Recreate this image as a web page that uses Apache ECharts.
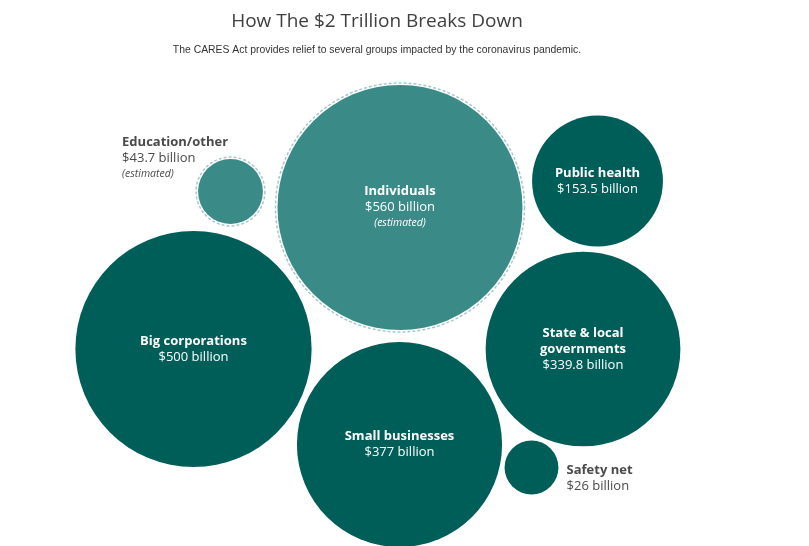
<!DOCTYPE html>
<html>
<head>
<meta charset="utf-8">
<script src="https://cdn.jsdelivr.net/npm/echarts@6/dist/echarts.min.js"></script>
<style>
html,body{margin:0;padding:0;background:#fff;}
#chart{width:809px;height:546px;}
</style>
</head>
<body>
<div id="chart"></div>
<script>
// ---- Data ----
const categories = ['Individuals', 'Big corporations', 'Small businesses', 'State & local governments', 'Public health', 'Education/other', 'Safety net'];
const labelNames = [['Individuals'], ['Big corporations'], ['Small businesses'], ['State & local', 'governments'], ['Public health'], ['Education/other'], ['Safety net']];
const values = [560, 500, 377, 339.8, 153.5, 43.7, 26]; // billion USD
const estimated = [true, false, false, false, false, true, false];

// ---- Layout (packed bubble centres, in pixel space of the plot) ----
const layoutCenters = [[400, 207.5], [193.5, 349], [399.5, 444.5], [583, 349], [597.5, 181], [230.5, 191.5], [531.5, 467.5]];
const maxRadius = 125; // radius for the largest value (area ∝ value)

const DARK = '#005e59';
const LIGHT = '#3a8b88';
const maxVal = Math.max(...values);
const radius = v => maxRadius * Math.sqrt(v / maxVal);

const outside = {
  'Education/other': { position: [-76, -25] },
  'Safety net': { position: [62, 22] }
};

const fillData = categories.map((c, i) => {
  const r = radius(values[i]);
  const size = estimated[i] ? 2 * r - 5 : 2 * r;
  const lines = labelNames[i].map(l => '{b|' + l + '}').join('\n') + '\n{v|$' + values[i] + ' billion}' + (estimated[i] ? '\n{e|(estimated)}' : '');
  const o = outside[c];
  const label = o ? {
    show: true, position: o.position, align: 'left', verticalAlign: 'top',
    formatter: lines,
    rich: {
      b: { fontFamily: 'Open Sans', fontWeight: 'bold', fontSize: 13, color: '#4a4a4a', lineHeight: 16 },
      v: { fontFamily: 'Open Sans', fontSize: 13, color: '#4a4a4a', lineHeight: 16 },
      e: { fontFamily: 'Open Sans', fontStyle: 'italic', fontSize: 10.5, color: '#4a4a4a', lineHeight: 16 }
    }
  } : {
    show: true, position: 'inside', formatter: lines, align: 'center'
  };
  return {
    name: c,
    value: [layoutCenters[i][0], layoutCenters[i][1], values[i]],
    symbolSize: size,
    itemStyle: { color: estimated[i] ? LIGHT : DARK },
    label: label
  };
});

const ringData = categories.map((c, i) => estimated[i] ? {
  name: c,
  value: [layoutCenters[i][0], layoutCenters[i][1], values[i]],
  symbolSize: 2 * radius(values[i]) - 1
} : null).filter(Boolean);

const chart = echarts.init(document.getElementById('chart'), null, { renderer: 'canvas' });
chart.setOption({
  animation: false,
  backgroundColor: '#ffffff',
  grid: { left: 0, right: 0, top: 0, bottom: 0 },
  xAxis: { type: 'value', min: 0, max: 809, show: false },
  yAxis: { type: 'value', min: 0, max: 546, inverse: true, show: false },
  graphic: [
    { type: 'text', x: 377, y: 22, style: { text: 'How The $2 Trillion Breaks Down', fill: '#3f3f3f', font: '19px "Open Sans"', textAlign: 'center', textVerticalAlign: 'middle' } },
    { type: 'text', x: 377, y: 50, style: { text: 'The CARES Act provides relief to several groups impacted by the coronavirus pandemic.', fill: '#333', font: '10.4px "Liberation Sans"', textAlign: 'center', textVerticalAlign: 'middle' } }
  ],
  series: [
    {
      type: 'scatter',
      symbol: 'circle',
      data: ringData,
      itemStyle: { color: 'transparent', borderColor: '#8fbcba', borderWidth: 1.5, borderType: [3, 2] },
      silent: true,
      z: 1
    },
    {
      type: 'scatter',
      symbol: 'circle',
      data: fillData,
      itemStyle: { opacity: 1 },
      label: {
        rich: {
          b: { fontFamily: 'Open Sans', fontWeight: 'bold', fontSize: 13, color: '#ffffff', lineHeight: 16 },
          v: { fontFamily: 'Open Sans', fontSize: 13, color: '#ffffff', lineHeight: 16 },
          e: { fontFamily: 'Open Sans', fontStyle: 'italic', fontSize: 10.5, color: '#ffffff', lineHeight: 16 }
        }
      },
      emphasis: { disabled: true },
      z: 2
    }
  ]
});
</script>
</body>
</html>
